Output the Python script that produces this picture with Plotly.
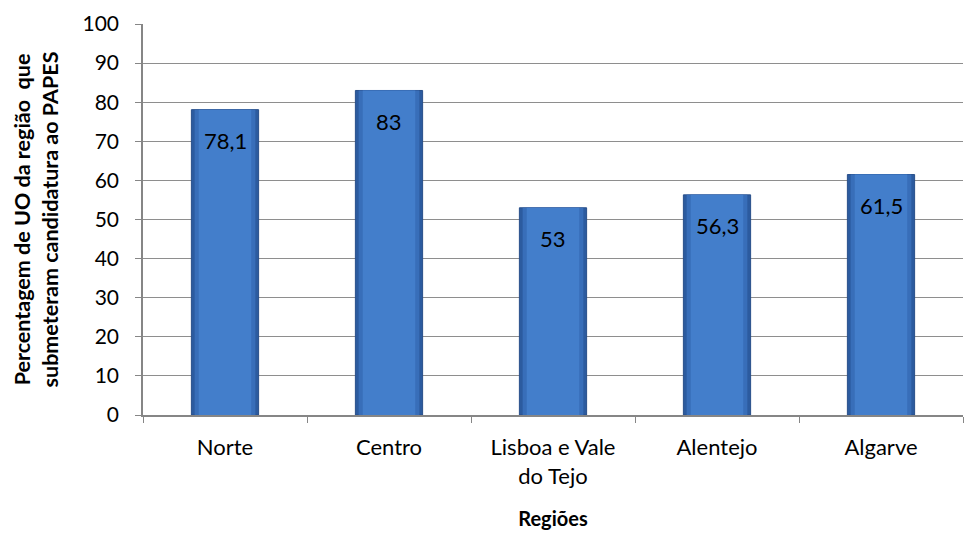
import plotly.graph_objects as go

categories = ["Norte", "Centro", "Lisboa e Vale<br>do Tejo", "Alentejo", "Algarve"]
values = [78.1, 83, 53, 56.3, 61.5]
value_labels = ["78,1", "83", "53", "56,3", "61,5"]

font_family = "Lato, 'Open Sans', sans-serif"

fig = go.Figure()
# outer (darker) bar body
fig.add_trace(go.Bar(
    x=categories, y=values, width=0.41,
    marker=dict(color="#2c5b9f", line=dict(color="#284f8a", width=1)),
    hoverinfo="skip", showlegend=False,
))
# middle layer
fig.add_trace(go.Bar(
    x=categories, y=values, width=0.37,
    marker=dict(color="#386eb9", line=dict(width=0)),
    hoverinfo="skip", showlegend=False,
))
# inner lighter highlight
fig.add_trace(go.Bar(
    x=categories, y=values, width=0.32,
    marker=dict(color="#437ecb", line=dict(width=0)),
    hoverinfo="skip", showlegend=False,
))

for c, v, lab in zip(categories, values, value_labels):
    fig.add_annotation(x=c, y=v, text=lab, showarrow=False, yshift=-31,
                       font=dict(size=22, color="#000000", family=font_family))

fig.update_layout(
    width=969, height=533,
    barmode="overlay",
    plot_bgcolor="white", paper_bgcolor="white",
    margin=dict(l=143, r=6, t=24, b=118),
    font=dict(family=font_family, size=22, color="#000000"),
    xaxis=dict(
        showline=True, linecolor="#868686", linewidth=1.5,
        ticks="outside", tickson="boundaries", ticklen=6, tickcolor="#868686",
        ticklabelstandoff=12,
        tickfont=dict(size=22),
        title=dict(text="<b>Regiões</b>", font=dict(size=20), standoff=24),
    ),
    yaxis=dict(
        range=[0, 100], dtick=10,
        showline=True, linecolor="#868686", linewidth=1.5,
        ticks="outside", ticklen=6, tickcolor="#868686",
        ticklabelstandoff=12,
        showgrid=True, gridcolor="#8e8e8e", gridwidth=1,
        tickfont=dict(size=21),
        title=dict(text="<b>Percentagem de UO da região  que<br>submeteram candidatura ao PAPES</b>",
                   font=dict(size=21.5), standoff=18),
        zeroline=False,
    ),
)

fig.write_html("out.html", config={"displayModeBar": False})

with open("out.html", "r", encoding="utf-8") as f:
    html = f.read()
html = html.replace("<head>", "<head><style>html,body{margin:0;padding:0;overflow:hidden;}</style>", 1)
with open("out.html", "w", encoding="utf-8") as f:
    f.write(html)
